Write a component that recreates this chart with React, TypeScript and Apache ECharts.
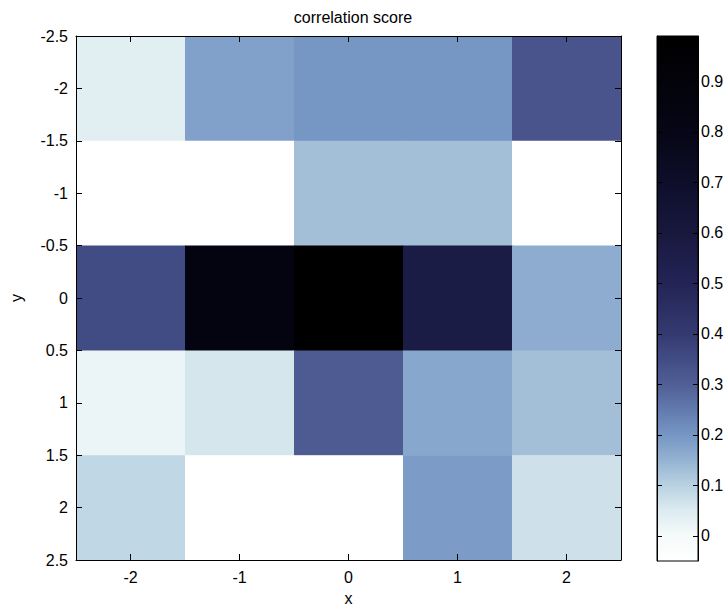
import React, { useEffect, useRef } from "react";
import * as echarts from "echarts";

const xCategories = [-2, -1, 0, 1, 2];
const yCategories = [-2, -1, 0, 1, 2];
// rows follow yCategories (top to bottom), columns follow xCategories
const scoreRowM2 = [0.04, 0.18, 0.2, 0.2, 0.33];
const scoreRowM1 = [-0.05, -0.05, 0.13, 0.13, -0.05];
const scoreRow0 = [0.35, 0.85, 0.99, 0.57, 0.16];
const scoreRow1 = [0.02, 0.06, 0.31, 0.17, 0.13];
const scoreRow2 = [0.09, -0.05, -0.05, 0.19, 0.07];
const scoreRows = [scoreRowM2, scoreRowM1, scoreRow0, scoreRow1, scoreRow2];

const xTickLabels = [-2, -1, 0, 1, 2];
const colorbarTicks = [0, 0.1, 0.2, 0.3, 0.4, 0.5, 0.6, 0.7, 0.8, 0.9];
const colorMin = -0.05;
const colorMax = 0.99;

// colormap: value -> rgb
const cmapValues = [-0.05, 0.0, 0.05, 0.1, 0.15, 0.2, 0.25, 0.3, 0.35, 0.4, 0.5, 0.6, 0.7, 0.8, 0.99];
const cmapColors: number[][] = [
  [255, 255, 255],
  [245, 250, 250],
  [220, 235, 240],
  [185, 210, 226],
  [148, 178, 210],
  [118, 150, 196],
  [98, 122, 174],
  [80, 95, 150],
  [66, 76, 132],
  [52, 58, 112],
  [35, 36, 86],
  [24, 24, 62],
  [14, 14, 42],
  [6, 6, 22],
  [0, 0, 0],
];

function colorAt(v: number): string {
  if (v <= cmapValues[0]) return `rgb(${cmapColors[0].join(",")})`;
  for (let i = 1; i < cmapValues.length; i++) {
    if (v <= cmapValues[i]) {
      const t = (v - cmapValues[i - 1]) / (cmapValues[i] - cmapValues[i - 1]);
      const a = cmapColors[i - 1];
      const b = cmapColors[i];
      const c = a.map((av, k) => Math.round(av + (b[k] - av) * t));
      return `rgb(${c.join(",")})`;
    }
  }
  return `rgb(${cmapColors[cmapColors.length - 1].join(",")})`;
}

const FONT = "'Liberation Sans', Arial, Helvetica, sans-serif";

export default function App() {
  const ref = useRef<HTMLDivElement>(null);
  useEffect(() => {
    document.body.style.margin = "0";
    if (!ref.current) return;
    const chart = echarts.init(ref.current, undefined, { renderer: "svg" });

    const cellData: number[][] = [];
    yCategories.forEach((y, r) => {
      xCategories.forEach((x, c) => {
        cellData.push([x, y, scoreRows[r][c]]);
      });
    });

    const axisLine = { show: true, onZero: false, lineStyle: { color: "#000", width: 1 } };
    const labelStyle = { color: "#000", fontSize: 16, fontFamily: FONT };

    const option: any = {
      animation: false,
      backgroundColor: "#fff",
      title: {
        text: "correlation score",
        left: 348,
        top: 4,
        textAlign: "center",
        textStyle: { color: "#000", fontSize: 16, fontWeight: "normal", fontFamily: FONT },
      },
      grid: [
        { left: 76, top: 36, width: 545, height: 524 },
        { left: 657, top: 36, width: 41, height: 525 },
      ],
      xAxis: [
        {
          gridIndex: 0,
          type: "value",
          min: -2.5,
          max: 2.5,
          position: "bottom",
          z: 10,
          axisLine,
          axisTick: { show: true, inside: true, length: 6, customValues: xTickLabels, lineStyle: { color: "#000" } },
          axisLabel: { ...labelStyle, margin: 9, customValues: xTickLabels },
          splitLine: { show: false },
          name: "x",
          nameLocation: "middle",
          nameGap: 30,
          nameTextStyle: { ...labelStyle },
        },
        {
          gridIndex: 0,
          type: "value",
          min: -2.5,
          max: 2.5,
          position: "top",
          z: 10,
          axisLine,
          axisTick: { show: true, inside: true, length: 6, customValues: xTickLabels, lineStyle: { color: "#000" } },
          axisLabel: { show: false },
          splitLine: { show: false },
        },
        {
          gridIndex: 1,
          type: "value",
          min: 0,
          max: 1,
          show: false,
        },
      ],
      yAxis: [
        {
          gridIndex: 0,
          type: "value",
          inverse: true,
          min: -2.5,
          max: 2.5,
          interval: 0.5,
          position: "left",
          z: 10,
          axisLine,
          axisTick: { show: true, inside: true, length: 6, lineStyle: { color: "#000" } },
          axisLabel: { ...labelStyle, margin: 8 },
          splitLine: { show: false },
          name: "y",
          nameLocation: "middle",
          nameGap: 52,
          nameRotate: 90,
          nameTextStyle: { ...labelStyle },
        },
        {
          gridIndex: 0,
          type: "value",
          inverse: true,
          min: -2.5,
          max: 2.5,
          interval: 0.5,
          position: "right",
          z: 10,
          axisLine,
          axisTick: { show: true, inside: true, length: 6, lineStyle: { color: "#000" } },
          axisLabel: { show: false },
          splitLine: { show: false },
        },
        {
          gridIndex: 1,
          type: "value",
          min: colorMin,
          max: colorMax,
          position: "right",
          z: 10,
          axisLine,
          axisTick: { show: true, inside: true, length: 5, customValues: colorbarTicks, lineStyle: { color: "#000" } },
          axisLabel: { ...labelStyle, margin: 3, customValues: colorbarTicks },
          splitLine: { show: false },
        },
        {
          gridIndex: 1,
          type: "value",
          min: colorMin,
          max: colorMax,
          position: "left",
          z: 10,
          axisLine,
          axisTick: { show: true, inside: true, length: 5, customValues: colorbarTicks, lineStyle: { color: "#000" } },
          axisLabel: { show: false },
          splitLine: { show: false },
        },
      ],
      series: [
        {
          type: "custom",
          xAxisIndex: 0,
          yAxisIndex: 0,
          z: 1,
          clip: true,
          data: cellData,
          renderItem: (_params: any, api: any) => {
            const x = api.value(0);
            const y = api.value(1);
            const v = api.value(2);
            const p1 = api.coord([x - 0.5, y - 0.5]);
            const p2 = api.coord([x + 0.5, y + 0.5]);
            return {
              type: "rect",
              shape: {
                x: Math.min(p1[0], p2[0]),
                y: Math.min(p1[1], p2[1]),
                width: Math.abs(p2[0] - p1[0]) + 0.5,
                height: Math.abs(p2[1] - p1[1]) + 0.5,
              },
              style: { fill: colorAt(v) },
            };
          },
        },
        {
          type: "custom",
          xAxisIndex: 2,
          yAxisIndex: 2,
          z: 1,
          data: [[0]],
          renderItem: (_params: any, api: any) => {
            const top = api.coord([0, colorMax]);
            const bottom = api.coord([1, colorMin]);
            const stops = cmapValues.map((v, i) => ({
              offset: (colorMax - v) / (colorMax - colorMin),
              color: `rgb(${cmapColors[i].join(",")})`,
            })).reverse();
            return {
              type: "rect",
              shape: {
                x: top[0],
                y: top[1],
                width: bottom[0] - top[0],
                height: bottom[1] - top[1],
              },
              style: {
                fill: { type: "linear", x: 0, y: 0, x2: 0, y2: 1, colorStops: stops },
                stroke: "#000",
                lineWidth: 1,
              },
            };
          },
        },
      ],
    };
    chart.setOption(option);
    return () => chart.dispose();
  }, []);
  return <div ref={ref} style={{ width: 728, height: 611 }} />;
}
